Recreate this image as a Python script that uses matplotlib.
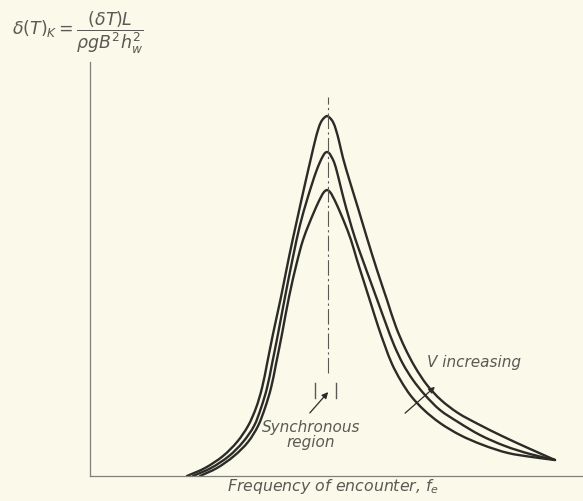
import numpy as np
import matplotlib
matplotlib.use("Agg")
import matplotlib.pyplot as plt
from matplotlib.path import Path
from matplotlib.patches import PathPatch

# arbitrary units (frequency of encounter, response)
freq_hi = [97, 115, 133, 147, 158, 166, 172, 177, 183, 191, 199, 207, 215, 221, 225, 228, 231, 234, 237,
           240, 243, 246, 249, 253, 260, 268, 277, 287, 297, 306, 315, 325, 337, 351, 368, 388, 412, 438, 465]
resp_hi = [0, 8, 20, 34, 50, 68, 88, 112, 142, 179, 219, 256, 292, 318, 335, 346, 354, 358, 360,
           358, 354, 346, 335, 318, 294, 268, 238, 206, 176, 149, 128, 109, 91, 76, 63, 52, 40, 28, 16]

freq_mid = [103, 121, 139, 153, 164, 171, 177, 182, 188, 195, 203, 210, 217, 222, 226, 230, 233, 235, 237,
            239, 241, 244, 247, 250, 254, 259, 265, 272, 280, 288, 296, 304, 313, 323, 335, 350, 368, 390,
            415, 440, 465]
resp_mid = [0, 8, 20, 34, 50, 68, 88, 112, 142, 179, 219, 251, 276, 292, 304, 314, 320, 323, 324,
            323, 320, 314, 304, 292, 276, 258, 238, 218, 196, 174, 152, 131, 112, 96, 81, 66, 54, 41,
            30, 22, 16]

freq_lo = [110, 127, 144, 158, 168, 175, 181, 186, 192, 199, 207, 213, 219, 224, 228, 231, 234, 237,
           240, 243, 246, 250, 255, 261, 267, 274, 281, 288, 295, 302, 311, 321, 334, 350, 370, 393, 418,
           442, 465]
resp_lo = [0, 8, 20, 34, 50, 68, 88, 112, 142, 179, 214, 236, 252, 264, 273, 279, 284, 286,
           284, 279, 273, 264, 252, 236, 216, 194, 172, 150, 130, 112, 95, 80, 66, 53, 41, 31, 23,
           19, 16]

f_sync = 238
sync_band = [225, 246]

bg = '#fbf9ea'
ink = '#2b2b27'
grey = '#5a5a54'

plt.rcParams['mathtext.fontset'] = 'dejavusans'


def smooth_path(x, y, alpha=0.5):
    # centripetal catmull-rom through the read points, as cubic bezier segments
    pts = np.column_stack([x, y]).astype(float)
    ext = np.vstack([2 * pts[0] - pts[1], pts, 2 * pts[-1] - pts[-2]])
    verts = [pts[0]]
    codes = [Path.MOVETO]
    for i in range(1, len(ext) - 2):
        p0, p1, p2, p3 = ext[i - 1], ext[i], ext[i + 1], ext[i + 2]
        d1 = np.linalg.norm(p1 - p0) ** alpha
        d2 = np.linalg.norm(p2 - p1) ** alpha
        d3 = np.linalg.norm(p3 - p2) ** alpha
        b1 = (d1 ** 2 * p2 - d2 ** 2 * p0 + (2 * d1 ** 2 + 3 * d1 * d2 + d2 ** 2) * p1) / (3 * d1 * (d1 + d2))
        b2 = (d3 ** 2 * p1 - d2 ** 2 * p3 + (2 * d3 ** 2 + 3 * d3 * d2 + d2 ** 2) * p2) / (3 * d3 * (d3 + d2))
        verts += [b1, b2, p2]
        codes += [Path.CURVE4] * 3
    return Path(verts, codes)


fig = plt.figure(figsize=(5.83, 5.01), dpi=100, facecolor=bg)
ax = fig.add_axes([90 / 583, 25 / 501, 493 / 583, 414 / 501])
ax.set_facecolor(bg)
ax.set_xlim(0, 493)
ax.set_ylim(0, 414)

for fr, rs in [(freq_hi, resp_hi), (freq_mid, resp_mid), (freq_lo, resp_lo)]:
    ax.add_patch(PathPatch(smooth_path(fr, rs), fill=False, edgecolor=ink, lw=1.7,
                           capstyle='round', joinstyle='round'))

# synchronous line and band marks
ax.plot([f_sync, f_sync], [103, 379], color=grey, lw=0.8, linestyle=(0, (14, 3, 2, 3)))
for fs in sync_band:
    ax.plot([fs, fs], [78, 93], color=grey, lw=1.0)

ax.annotate('', xy=(240, 86), xytext=(218, 61),
            arrowprops=dict(arrowstyle='-|>', color=ink, lw=0.9, mutation_scale=9))
ax.text(221, 41, 'Synchronous\nregion', ha='center', va='center', style='italic',
        fontsize=11, color=grey, linespacing=1.0)

ax.annotate('', xy=(347, 91), xytext=(313, 61),
            arrowprops=dict(arrowstyle='-|>', color=ink, lw=0.9, mutation_scale=9))
ax.text(337, 114, 'V increasing', ha='left', va='center', style='italic',
        fontsize=11, color=grey)

for s in ['top', 'right']:
    ax.spines[s].set_visible(False)
for s in ['left', 'bottom']:
    ax.spines[s].set_color('#80807a')
    ax.spines[s].set_linewidth(0.9)
ax.set_xticks([])
ax.set_yticks([])

fig.text(333 / 583, 1 - 486 / 501, r'Frequency of encounter, $f_e$', ha='center', va='center',
         style='italic', fontsize=11.3, color=grey)
fig.text(12 / 583, 1 - 33 / 501,
         r'$\delta(T)_K = \dfrac{(\delta T)L}{\rho g B^2 h_w^2}$',
         ha='left', va='center', fontsize=12.5, color=grey)

fig.savefig('out.png', dpi=100, facecolor=bg)
